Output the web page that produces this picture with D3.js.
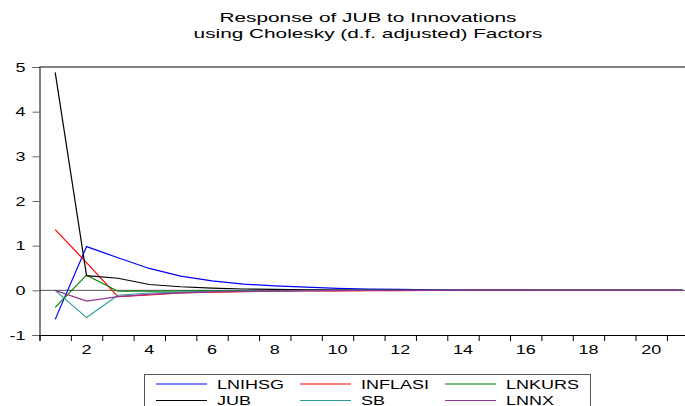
<!DOCTYPE html>
<html>
<head>
<meta charset="utf-8">
<script src="https://cdn.jsdelivr.net/npm/d3@7"></script>
<style>
    body { margin: 0; background: #ffffff; }
    text { font-family: Arial, "Liberation Sans", sans-serif; }
</style>
</head>
<body>
<div id="chart"></div>
<script>
// Response values per period (1..21)
const periods = d3.range(1, 22);
const lnihsg = [-0.65, 0.98, 0.73, 0.49, 0.32, 0.21, 0.14, 0.10, 0.07, 0.045, 0.03, 0.02, 0.013, 0.008, 0.005, 0.003, 0.002, 0.001, 0.001, 0.0, 0.0];
const inflasi = [1.36, 0.62, -0.14, -0.10, -0.06, -0.04, -0.03, -0.02, -0.015, -0.01, -0.007, -0.005, -0.003, -0.002, -0.001, -0.001, 0.0, 0.0, 0.0, 0.0, 0.0];
const lnkurs = [-0.38, 0.34, -0.02, -0.02, -0.015, -0.01, -0.007, -0.005, -0.003, -0.002, -0.001, 0.0, 0.0, 0.0, 0.0, 0.0, 0.0, 0.0, 0.0, 0.0, 0.0];
const jub = [4.88, 0.33, 0.27, 0.13, 0.08, 0.05, 0.03, 0.02, 0.012, 0.008, 0.005, 0.003, 0.002, 0.001, 0.001, 0.0, 0.0, 0.0, 0.0, 0.0, 0.0];
const sb = [0.0, -0.61, -0.11, -0.06, -0.04, -0.025, -0.015, -0.01, -0.006, -0.004, -0.002, -0.001, 0.0, 0.0, 0.0, 0.0, 0.0, 0.0, 0.0, 0.0, 0.0];
const lnnx = [0.0, -0.24, -0.14, -0.09, -0.055, -0.035, -0.022, -0.014, -0.009, -0.006, -0.004, -0.002, -0.001, 0.0, 0.0, 0.0, 0.0, 0.0, 0.0, 0.0, 0.0];

const seriesNames = ["LNIHSG", "INFLASI", "LNKURS", "JUB", "SB", "LNNX"];
const seriesValues = [lnihsg, inflasi, lnkurs, jub, sb, lnnx];
const seriesColors = ["#0000ff", "#ff0000", "#008000", "#000000", "#2b9a9a", "#993399"];

const yTicks = [-1, 0, 1, 2, 3, 4, 5];
const xTickLabels = [2, 4, 6, 8, 10, 12, 14, 16, 18, 20];
const titleLines = ["Response of JUB to Innovations", "using Cholesky (d.f. adjusted) Factors"];

// the EViews export is stretched sideways, so text is widened too
const STRETCH = 1.5;

drawChart();

function drawChart() {
    const width = 685;
    const height = 406;
    const left = 39.5, top = 67, bottom = 335;

    const svg = d3.select("#chart")
        .append("svg")
        .attr("width", width)
        .attr("height", height);

    const x = d3.scaleLinear().domain([0.5, 21.5]).range([left, left + 21 * 31.37]);
    const y = d3.scaleLinear().domain([-1, 5]).range([bottom, top]);

    // title
    svg.selectAll(".title")
        .data(titleLines)
        .enter()
        .append("text")
        .attr("class", "title")
        .attr("transform", (d, i) => `translate(368,${22 + i * 15.5}) scale(1.6,1)`)
        .attr("text-anchor", "middle")
        .attr("font-size", "13px")
        .attr("fill", "#000")
        .text(d => d);

    // zero line
    svg.append("line")
        .attr("x1", left).attr("x2", x(21.5))
        .attr("y1", y(0)).attr("y2", y(0))
        .attr("stroke", "#555")
        .attr("stroke-width", 1);

    // y axis
    const yAxis = svg.append("g")
        .attr("transform", `translate(${left},0)`)
        .call(d3.axisLeft(y).tickValues(yTicks).tickSize(7).tickPadding(0).tickFormat(d => String(d)));
    yAxis.select(".domain").attr("stroke", "#000");
    yAxis.selectAll(".tick line").attr("stroke", "#666");
    yAxis.selectAll(".tick text")
        .attr("x", 0)
        .attr("dy", "0.35em")
        .attr("font-size", "12px")
        .attr("font-family", "Arial, 'Liberation Sans', sans-serif")
        .attr("fill", "#000")
        .attr("transform", `translate(-14,0) scale(${STRETCH},1)`);

    // x axis: ticks on half steps, labels on even periods
    const xAxis = svg.append("g")
        .attr("transform", `translate(0,${bottom})`)
        .call(d3.axisBottom(x).tickValues(d3.range(0.5, 22, 1)).tickSize(6).tickFormat(""));
    xAxis.select(".domain").attr("stroke", "#000");
    xAxis.selectAll(".tick line").attr("stroke", "#000");

    svg.append("g")
        .selectAll("text")
        .data(xTickLabels)
        .enter()
        .append("text")
        .attr("transform", d => `translate(${x(d)},${bottom + 19}) scale(${STRETCH},1)`)
        .attr("text-anchor", "middle")
        .attr("font-size", "12px")
        .attr("fill", "#000")
        .text(d => d);

    // top frame line
    svg.append("line")
        .attr("x1", left).attr("x2", x(21.5))
        .attr("y1", top).attr("y2", top)
        .attr("stroke", "#000");

    // series lines
    const line = d3.line()
        .x((d, i) => x(periods[i]))
        .y(d => y(d));

    svg.append("g")
        .selectAll("path")
        .data(seriesValues)
        .enter()
        .append("path")
        .attr("d", d => line(d))
        .attr("fill", "none")
        .attr("stroke", (d, i) => seriesColors[i])
        .attr("stroke-width", 1.2);

    // legend box
    const legend = svg.append("g");
    legend.append("rect")
        .attr("x", 144.5).attr("y", 374.5)
        .attr("width", 446).attr("height", 50)
        .attr("fill", "#fff")
        .attr("stroke", "#555");

    const colX = [156, 300, 445];
    const rowY = [384, 400.5];

    seriesNames.forEach((name, i) => {
        const cx = colX[i % 3];
        const cy = rowY[Math.floor(i / 3)];
        legend.append("line")
            .attr("x1", cx).attr("x2", cx + 51)
            .attr("y1", cy).attr("y2", cy)
            .attr("stroke", seriesColors[i])
            .attr("stroke-width", 1.2);
        legend.append("text")
            .attr("transform", `translate(${cx + 61},${cy + 4.5}) scale(${STRETCH},1)`)
            .attr("font-size", "12px")
            .attr("fill", "#000")
            .text(name);
    });
}
</script>
</body>
</html>
